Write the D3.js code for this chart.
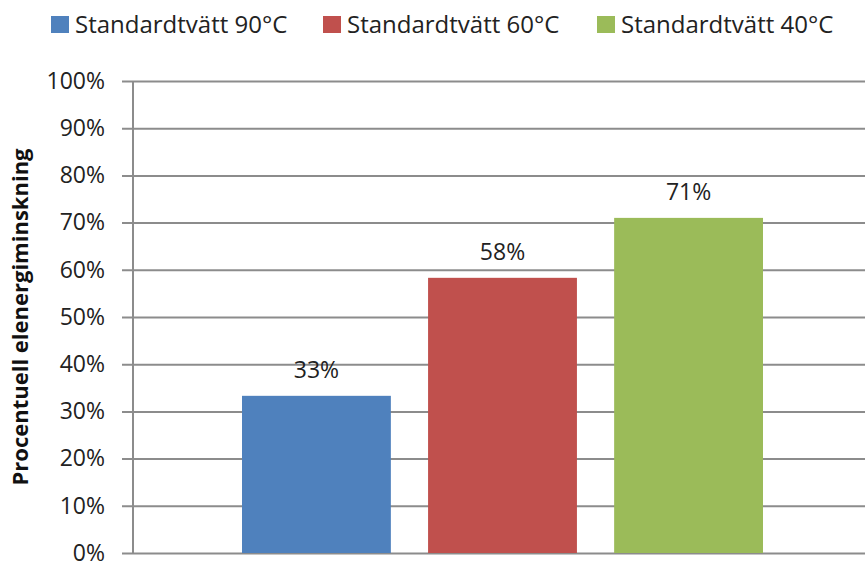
<!DOCTYPE html>
<html>
<head>
<meta charset="utf-8">
<script src="https://cdn.jsdelivr.net/npm/d3@7"></script>
<style>
  body { margin: 0; background: #fff; }
  svg { display: block; }
</style>
</head>
<body>
<div id="chart"></div>
<script>
// chart data
const series = ["Standardtvätt 90°C", "Standardtvätt 60°C", "Standardtvätt 40°C"];
const values = [0.333, 0.583, 0.71];
const colors = ["#4f81bd", "#c0504d", "#9bbb59"];
const yTicks = [0, 0.1, 0.2, 0.3, 0.4, 0.5, 0.6, 0.7, 0.8, 0.9, 1.0];
const yTitle = "Procentuell elenergiminskning";

const width = 865, height = 563;
const margin = { top: 81, left: 133 };
const font = "'Open Sans', sans-serif";
const fmt = d3.format(".0%");

const svg = d3.select("#chart").append("svg")
  .attr("width", width).attr("height", height);

const x = d3.scaleBand()
  .domain(series)
  .range([242, 763])
  .paddingInner(0.2)
  .paddingOuter(0);

const y = d3.scaleLinear()
  .domain([0, 1])
  .range([553, margin.top]);

// gridlines + tick marks
const yAxis = d3.axisLeft(y)
  .tickValues(yTicks)
  .tickFormat(fmt)
  .tickSize(-(width - margin.left + 10))
  .tickSizeOuter(0)
  .tickPadding(28);

const gy = svg.append("g")
  .attr("transform", `translate(${margin.left},0)`)
  .call(yAxis);
gy.select(".domain").remove();
gy.selectAll(".tick line")
  .attr("x1", -11)
  .attr("stroke", "#8c8c8c")
  .attr("stroke-width", 2);
gy.selectAll(".tick text")
  .attr("font-family", font)
  .attr("font-size", 23)
  .attr("fill", "#222");

// vertical axis line
svg.append("line")
  .attr("x1", margin.left).attr("x2", margin.left)
  .attr("y1", y(1)).attr("y2", y(0))
  .attr("stroke", "#8c8c8c").attr("stroke-width", 2);

// bars
svg.append("g").selectAll("rect")
  .data(values)
  .join("rect")
  .attr("x", (d, i) => x(series[i]))
  .attr("y", d => y(d))
  .attr("width", x.bandwidth())
  .attr("height", d => y(0) - y(d))
  .attr("fill", (d, i) => colors[i]);

// value labels
svg.append("g").selectAll("text")
  .data(values)
  .join("text")
  .attr("x", (d, i) => x(series[i]) + x.bandwidth() / 2)
  .attr("y", d => y(d) - 18)
  .attr("text-anchor", "middle")
  .attr("font-family", font)
  .attr("font-size", 23)
  .attr("fill", "#222")
  .text(d => fmt(d));

// y title
svg.append("text")
  .attr("transform", `translate(28,${(y(0) + y(1)) / 2}) rotate(-90)`)
  .attr("text-anchor", "middle")
  .attr("font-family", font)
  .attr("font-weight", "bold")
  .attr("font-size", 22)
  .attr("fill", "#111")
  .text(yTitle);

// legend
const legendX = [51, 323, 597];
const legend = svg.append("g").selectAll("g")
  .data(series)
  .join("g")
  .attr("transform", (d, i) => `translate(${legendX[i]},16)`);
legend.append("rect")
  .attr("width", 18).attr("height", 17)
  .attr("fill", (d, i) => colors[i]);
legend.append("text")
  .attr("x", 24)
  .attr("y", 17)
  .attr("font-family", font)
  .attr("font-size", 24)
  .attr("fill", "#222")
  .text(d => d);
</script>
</body>
</html>
